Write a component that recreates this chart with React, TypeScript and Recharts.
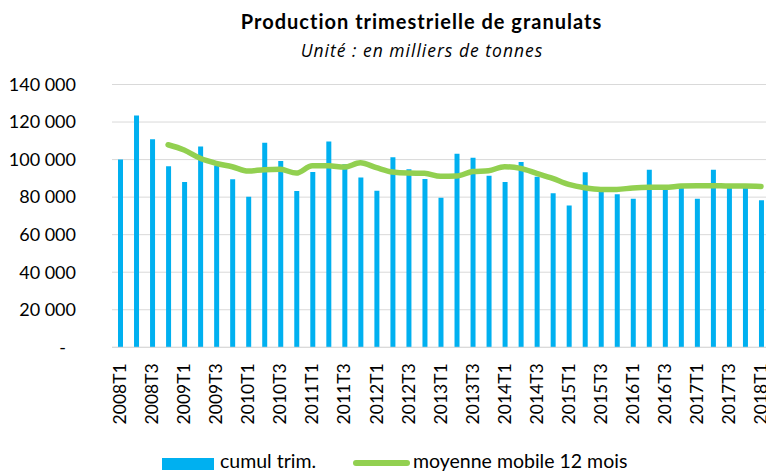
import { Bar, CartesianGrid, ComposedChart, Line, XAxis, YAxis } from "recharts";

const years = [2008, 2009, 2010, 2011, 2012, 2013, 2014, 2015, 2016, 2017, 2018];
const quarters = ["T1", "T2", "T3", "T4"];
const categories = years.flatMap((y) => quarters.map((q) => `${y}${q}`)).slice(0, 41);

// cumul trimestriel (milliers de tonnes)
const cumulTrim = [
  100000, 123500, 110800, 96400, 88000, 107000, 96800, 89500, 80200, 109000,
  99200, 83200, 93400, 109700, 97500, 90500, 83400, 101200, 94800, 89600,
  79700, 103100, 101000, 91400, 88000, 98700, 90900, 82000, 75600, 93200,
  83800, 81500, 79200, 94600, 84100, 85000, 79200, 94600, 85000, 85000, 78300,
];

// moyenne mobile 12 mois
const moyenneMobile = [
  null, null, null, 107900, 105100, 100700, 98000, 96200, 93900, 94600,
  94800, 92800, 96700, 96700, 96000, 98300, 95700, 93400, 92800, 92700,
  91100, 91200, 93600, 94100, 96200, 95300, 92700, 90000, 86800, 85000,
  84100, 84100, 84900, 85200, 85200, 85900, 86100, 86100, 85900, 85900, 85700,
];

const yTicks = [0, 20000, 40000, 60000, 80000, 100000, 120000, 140000];

const data = categories.map((label, i) => ({
  label,
  cumul: cumulTrim[i],
  mm: moyenneMobile[i],
}));

const FONT = "Lato, 'Liberation Sans', sans-serif";
const BLUE = "#00B0F0";
const GREEN = "#92D050";

const fmt = (v: number) => String(v).replace(/\B(?=(\d{3})+(?!\d))/g, " ");

function YTick({ x, y, payload }: any) {
  const zero = payload.value === 0;
  return (
    <text
      x={zero ? x - 10 : x}
      y={y}
      dy="0.35em"
      textAnchor="end"
      fill="#000"
      fontSize={18}
      fontFamily={FONT}
    >
      {zero ? "-" : fmt(payload.value)}
    </text>
  );
}

function XTick({ x, y, payload }: any) {
  return (
    <g transform={`translate(${x},${y + 8}) rotate(-90)`}>
      <text x={0} y={0} dy="0.35em" textAnchor="end" fill="#000" fontSize={17.5} fontFamily={FONT}>
        {payload.value}
      </text>
    </g>
  );
}

export default function App() {
  return (
    <div
      style={{
        position: "absolute",
        left: 0,
        top: 0,
        width: 766,
        height: 472,
        overflow: "hidden",
        background: "#fff",
        fontFamily: FONT,
      }}
    >
      <div
        style={{
          position: "absolute",
          top: 9,
          left: 0,
          width: 843,
          textAlign: "center",
          fontWeight: 700,
          fontSize: 20,
          letterSpacing: 1,
          color: "#000",
        }}
      >
        Production trimestrielle de granulats
      </div>
      <div
        style={{
          position: "absolute",
          top: 38,
          left: 0,
          width: 844,
          textAlign: "center",
          fontStyle: "italic",
          fontSize: 17.5,
          letterSpacing: 1,
          fontFamily: "'Open Sans', sans-serif",
          color: "#000",
        }}
      >
        Unité : en milliers de tonnes
      </div>
      <ComposedChart
        width={780}
        height={472}
        data={data}
        margin={{ top: 84.5, right: 11, bottom: 0, left: 0 }}
        barCategoryGap={0}
      >
        <CartesianGrid stroke="#D9D9D9" vertical={false} />
        <XAxis
          dataKey="label"
          interval={1}
          height={124.7}
          tickLine={false}
          axisLine={{ stroke: "#D9D9D9" }}
          tick={<XTick />}
        />
        <YAxis
          width={112}
          domain={[0, 140000]}
          ticks={yTicks}
          tickLine={false}
          axisLine={false}
          tickSize={0}
          tickMargin={36}
          tick={<YTick />}
        />
        <Bar dataKey="cumul" fill={BLUE} barSize={5} isAnimationActive={false} />
        <Line
          dataKey="mm"
          type="monotone"
          stroke={GREEN}
          strokeWidth={5.5}
          strokeLinecap="round"
          dot={false}
          activeDot={false}
          isAnimationActive={false}
        />
      </ComposedChart>
      <div
        style={{
          position: "absolute",
          top: 452,
          left: 0,
          width: 766,
          height: 20,
          fontSize: 19.5,
          color: "#000",
        }}
      >
        <div style={{ position: "absolute", left: 162, top: 6, width: 52, height: 12, background: BLUE }} />
        <span style={{ position: "absolute", left: 220, top: -3, whiteSpace: "nowrap" }}>cumul trim.</span>
        <div
          style={{
            position: "absolute",
            left: 353,
            top: 8,
            width: 57,
            height: 6,
            borderRadius: 3,
            background: GREEN,
          }}
        />
        <span style={{ position: "absolute", left: 413, top: -3, whiteSpace: "nowrap" }}>
          moyenne mobile 12 mois
        </span>
      </div>
    </div>
  );
}
